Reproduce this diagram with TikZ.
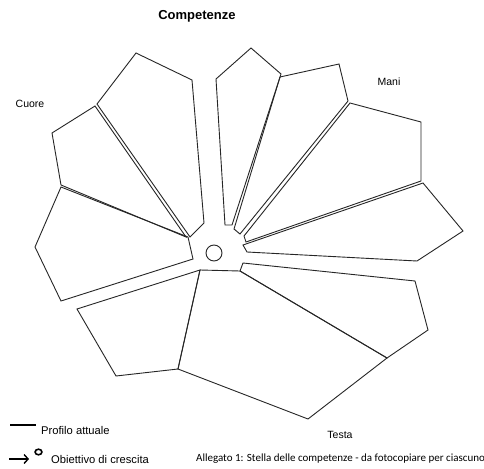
\documentclass[tikz,border=0pt]{standalone}
\usepackage{fontspec}
\setmainfont{Liberation Sans}
\newfontfamily\allegatofont{Carlito}
\usetikzlibrary{arrows.meta}
\tikzset{
  petal/.style={draw=black!85, line width=0.9pt, line join=miter},
  lbl/.style={inner sep=0pt, font=\fontsize{10.5}{12}\selectfont},
}
\begin{document}
\begin{tikzpicture}[x=1pt,y=-1pt]
\useasboundingbox[fill=white] (0,0) rectangle (484,468);
% petals
\draw[petal] (136,53) -- (192,80) -- (204,223) -- (190,237) -- (97,104) -- cycle; % A
\draw[petal] (95,106) -- (52,133) -- (61,185) -- (186,237) -- cycle; % B
\draw[petal] (61,187) -- (35,247) -- (61,301) -- (193,259) -- (188,237) -- cycle; % C
\draw[petal] (77,309) -- (116,376) -- (178,369) -- (200,270) -- cycle; % D
\draw[petal] (200,270) -- (240,271) -- (387,358) -- (308,419) -- (178,369) -- cycle; % E
\draw[petal] (243,263) -- (415,281) -- (428,330) -- (387,358) -- (240,271) -- cycle; % F
\draw[petal] (423,183) -- (463,231) -- (417,261) -- (247,252) -- (243,245) -- cycle; % G
\draw[petal] (350,103) -- (421,122) -- (421,181) -- (246,242) -- (244,236) -- cycle; % H
\draw[petal] (280,77) -- (339,64) -- (348,101) -- (240,234) -- (234,229) -- cycle; % I
\draw[petal] (216,79) -- (251,48) -- (281,74) -- (232,225) -- (225,225) -- cycle; % J
% centre circle
\draw[petal] (214,253) circle[radius=8];
% labels
\node[lbl, font=\fontsize{13}{15}\selectfont\bfseries] (title) at (197,16) {Competenze};
\node[lbl] (cuore) at (30,104) {Cuore};
\node[lbl] (mani) at (389,82) {Mani};
\node[lbl] (testa) at (340,435) {Testa};
% legend
\coordinate (l1a) at (10,425);
\coordinate (l1b) at (36,425);
\draw[line width=1.4pt] (l1a) -- (l1b);
\node[lbl, anchor=west, font=\fontsize{11.2}{13}\selectfont] (profilo) at (41,430) {Profilo attuale};
\coordinate (l2a) at (9,459);
\coordinate (l2b) at (29,459);
\draw[line width=1.4pt, -{Straight Barb[length=4pt,width=9pt]}] (l2a) -- (l2b);
\draw[line width=1.6pt] (38.5,452) ellipse[x radius=3.4, y radius=2.8];
\node[lbl, anchor=west, font=\fontsize{11.2}{13}\selectfont] (obiettivo) at (51,459) {Obiettivo di crescita};
\node[inner sep=0pt, anchor=west, font=\allegatofont\fontsize{11}{13}\selectfont] (allegato) at (196,459) {Allegato 1: Stella delle competenze - da fotocopiare per ciascuno};
\end{tikzpicture}
\end{document}
